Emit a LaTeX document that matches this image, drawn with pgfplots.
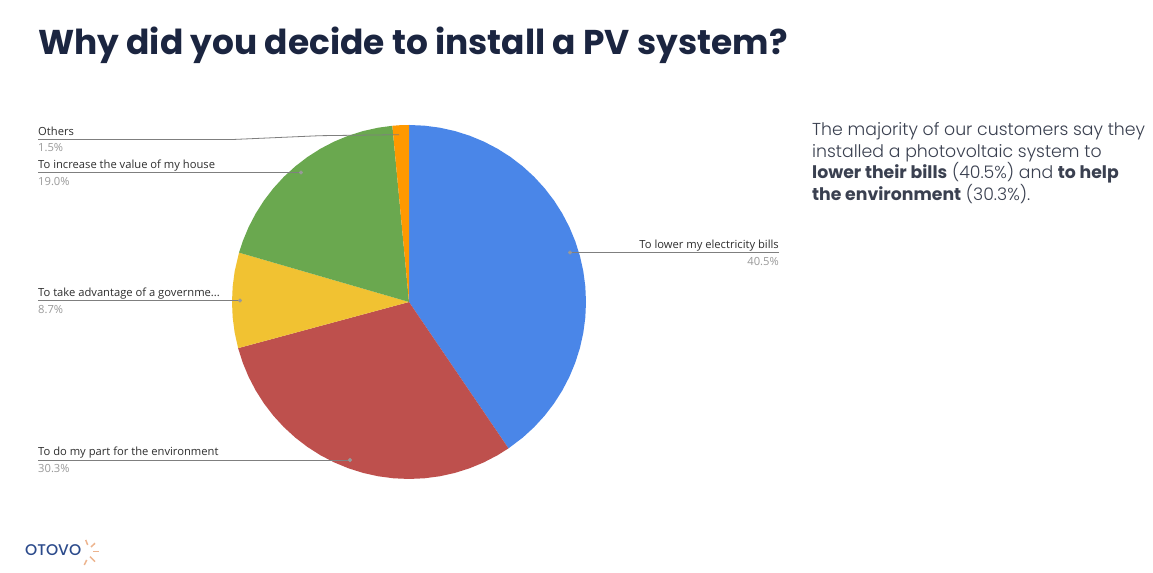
\documentclass[border=0pt]{standalone}
\usepackage{pgfplots}
\pgfplotsset{compat=1.18}
\usepackage{fontspec}
\setmainfont{Open Sans}
\newfontfamily\pop[UprightFont=* Light,BoldFont=* Bold]{Poppins}
\newfontfamily\popb[UprightFont=* Bold]{Poppins}
\newfontfamily\popm[UprightFont=* Medium]{Poppins}
\definecolor{cblue}{HTML}{4A86E8}
\definecolor{cred}{HTML}{BE504D}
\definecolor{cyel}{HTML}{F1C232}
\definecolor{cgreen}{HTML}{6AA84F}
\definecolor{corange}{HTML}{FF9900}
\definecolor{ctitle}{HTML}{1B2540}
\definecolor{cbody}{HTML}{3A4050}
\definecolor{clab}{HTML}{2E2E2E}
\definecolor{cpct}{HTML}{9A9A9A}
\definecolor{cline}{HTML}{7F7F7F}
\definecolor{cdot}{HTML}{999999}
\definecolor{clogo}{HTML}{2B4A8B}
\definecolor{cray}{HTML}{EDB48E}
% pixel position of the reference -> axis coordinates (origin at the pie's centre)
\newcommand{\lab}[3]{\node[anchor=base west,inner sep=0pt,font=\fontsize{11.2}{12}\selectfont,text=clab] at (axis cs:{#1-409},{302-#2}) {#3};}
\newcommand{\pct}[3]{\node[anchor=base west,inner sep=0pt,font=\fontsize{11.2}{12}\selectfont,text=cpct] at (axis cs:{#1-409},{302-#2}) {#3};}
\newcommand{\body}[2]{\node[anchor=base west,inner sep=0pt,font=\fontsize{17.3}{20}\pop,text=cbody] at (axis cs:{812-409},{302-#1}) {#2};}
\begin{document}
\begin{tikzpicture}
\begin{axis}[
  scale only axis, width=1153pt, height=573pt,
  xmin=-409, xmax=744, ymin=-271, ymax=302,
  hide axis, clip=true,
  every axis plot/.append style={line join=round},
]
\path[fill=white] (axis cs:-409,-271) rectangle (axis cs:744,302);
% Pie slices: (angle in degrees, radius in px), data in polar coordinates
% To lower my electricity bills 40.5
\addplot[fill=cblue,draw=none,data cs=polar] coordinates {(0,0) (90,177) (85,177) (80,177) (75,177) (70,177) (65,177) (60,177) (55,177) (50,177) (45,177) (40,177) (35,177) (30,177) (25,177) (20,177) (15,177) (10,177) (5,177) (0,177) (-5,177) (-10,177) (-15,177) (-20,177) (-25,177) (-30,177) (-35,177) (-40,177) (-45,177) (-50,177) (-55.8,177)} -- cycle;
% To do my part for the environment 30.3
\addplot[fill=cred,draw=none,data cs=polar] coordinates {(0,0) (-55.8,177) (-60,177) (-65,177) (-70,177) (-75,177) (-80,177) (-85,177) (-90,177) (-95,177) (-100,177) (-105,177) (-110,177) (-115,177) (-120,177) (-125,177) (-130,177) (-135,177) (-140,177) (-145,177) (-150,177) (-155,177) (-160,177) (-164.88,177)} -- cycle;
% Government 8.7
\addplot[fill=cyel,draw=none,data cs=polar] coordinates {(0,0) (-164.88,177) (-170,177) (-175,177) (-180,177) (-185,177) (-190,177) (-196.2,177)} -- cycle;
% House value 19.0
\addplot[fill=cgreen,draw=none,data cs=polar] coordinates {(0,0) (-196.2,177) (-200,177) (-205,177) (-210,177) (-215,177) (-220,177) (-225,177) (-230,177) (-235,177) (-240,177) (-245,177) (-250,177) (-255,177) (-260,177) (-264.6,177)} -- cycle;
% Others 1.5
\addplot[fill=corange,draw=none,data cs=polar] coordinates {(0,0) (-264.6,177) (-267,177) (-270,177)} -- cycle;
% Leader lines
\addplot[draw=cline,line width=0.8pt] coordinates {(-371,162.5) (-176,162.5) (-89,166.3) (-10,167.3)};
\addplot[draw=cline,line width=0.8pt] coordinates {(-371,129.5) (-108,129.5)};
\addplot[draw=cline,line width=0.8pt] coordinates {(-371,1.5) (-169,1.5)};
\addplot[draw=cline,line width=0.8pt] coordinates {(-371,-158) (-59,-158)};
\addplot[draw=cline,line width=0.8pt] coordinates {(370,49.5) (161,49.5)};
\addplot[only marks,mark=*,mark size=1.8pt,mark options={draw=cdot,fill=cdot}] coordinates {(-108,129.5) (-169,1.5) (-59,-158) (161,49.5)};
% Labels
\lab{38}{135.5}{Others}
\pct{38}{152}{1.5\%}
\lab{38}{168.5}{To increase the value of my house}
\pct{38}{185.5}{19.0\%}
\lab{38}{296.5}{To take advantage of a governme...}
\pct{38}{313.5}{8.7\%}
\lab{38}{456}{To do my part for the environment}
\pct{38}{472.5}{30.3\%}
\node[anchor=base east,inner sep=0pt,font=\fontsize{11.2}{12}\selectfont,text=clab] at (axis cs:370,53.5) {To lower my electricity bills};
\node[anchor=base east,inner sep=0pt,font=\fontsize{11.2}{12}\selectfont,text=cpct] at (axis cs:370,36.5) {40.5\%};
% Title
\node[anchor=base west,inner sep=0pt,font=\fontsize{34.4}{40}\popb,text=ctitle] at (axis cs:-371,247) {Why did you decide to install a PV system?};
% Body text
\body{136}{The majority of our customers say they}
\body{157.5}{installed a photovoltaic system to}
\body{179}{\textbf{lower their bills} (40.5\%) and \textbf{to help}}
\body{200.5}{\textbf{the environment} (30.3\%).}
% Logo
\node[anchor=base west,inner sep=0pt,font=\fontsize{15.5}{18}\popm,text=clogo] at (axis cs:-384,-254) {OTOVO};
\addplot[draw=cray,line width=1.5pt] coordinates {(-323.3,-238) (-321.3,-243)};
\addplot[draw=cray,line width=1.5pt] coordinates {(-314,-241.3) (-318,-245)};
\addplot[draw=cray,line width=1.5pt] coordinates {(-316,-249.7) (-310,-249.7)};
\addplot[draw=cray,line width=1.5pt] coordinates {(-319,-254.7) (-314,-259.7)};
\addplot[draw=cray,line width=1.5pt] coordinates {(-322.3,-258) (-324.7,-263)};
\end{axis}
\end{tikzpicture}
\end{document}
